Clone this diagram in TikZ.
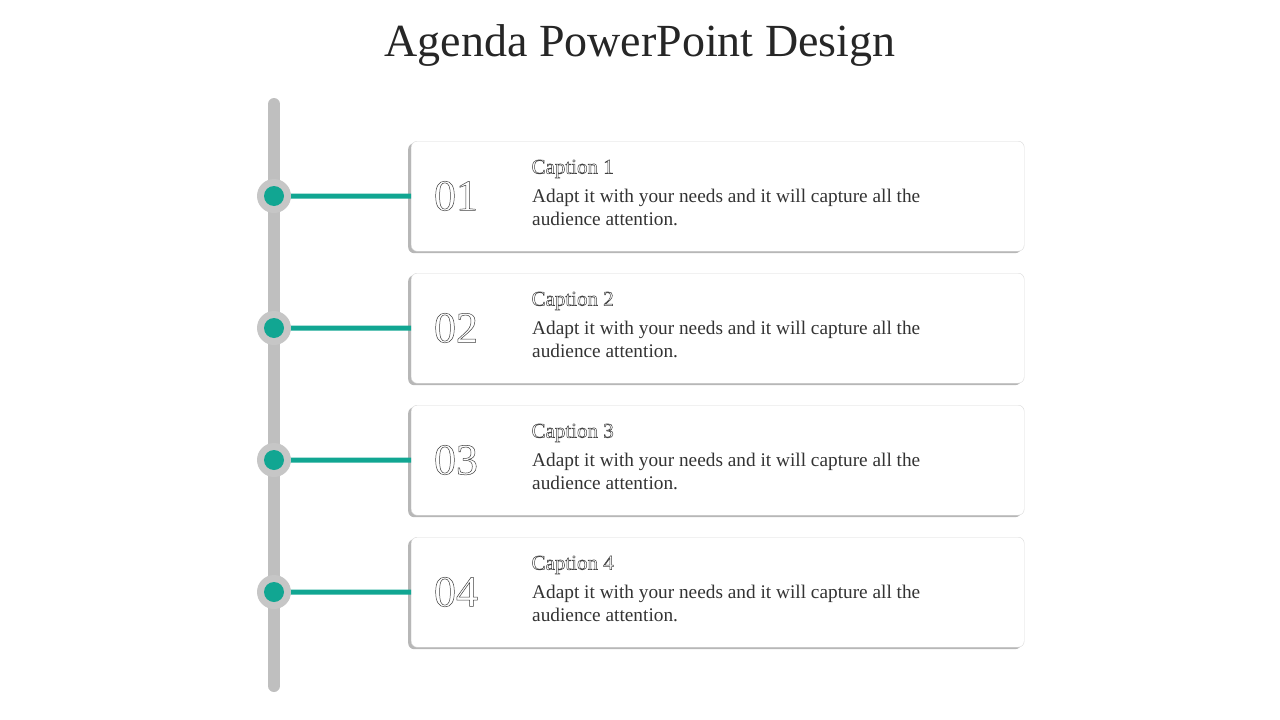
\documentclass[tikz,border=0pt]{standalone}
\usepackage{fontspec}
\setmainfont{Liberation Serif}
\usetikzlibrary{shadows}
\definecolor{tealc}{RGB}{17,166,146}
\tikzset{
 card/.style={draw=gray!30,fill=white,rounded corners=6pt,minimum width=613pt,minimum height=110pt,anchor=north west,
   drop shadow={shadow xshift=-3pt,shadow yshift=-2pt,fill=gray!80,opacity=.7}},
 outl/.style={font=\fontsize{44}{44}\selectfont,text=white},
 captext/.style={font=\fontsize{21}{21}\selectfont,anchor=west,text=white},
 body/.style={font=\fontsize{19.3}{23}\selectfont,anchor=north west,align=left,text=black!80,inner sep=0pt},
}
\newcommand{\olt}[1]{\special{pdf:code q 0.25 g 0.25 G 0.5 w 1 Tr}#1\special{pdf:code 0 Tr Q}}
\begin{document}
\begin{tikzpicture}[x=1pt,y=-1pt]
\useasboundingbox (0,0) rectangle (1280,720);
\node[font=\fontsize{46}{46}\selectfont,text=black!85] (title) at (640,46) {Agenda PowerPoint Design};
\draw[line width=12pt,gray!50,line cap=round] (274,104) coordinate (top) -- (274,686) coordinate (bot);
\foreach \i/\y in {1/141,2/273,3/405,4/537}{
  \node[card] (c\i) at (411,\y) {};
  \coordinate (d\i) at (274,\y+55);
  \draw[line width=5pt,tealc] (d\i) -- (c\i.west);
  \fill[gray!45] (d\i) circle (17);
  \fill[tealc] (d\i) circle (10);
  \node[outl] (n\i) at (456,\y+55) {\olt{0\i}};
  \node[captext] (t\i) at (528,\y+28) {\olt{Caption \i}};
  \node[body] (b\i) at (532,\y+48) {Adapt it with your needs and it will capture all the\\audience attention.};
}
\end{tikzpicture}
\end{document}
